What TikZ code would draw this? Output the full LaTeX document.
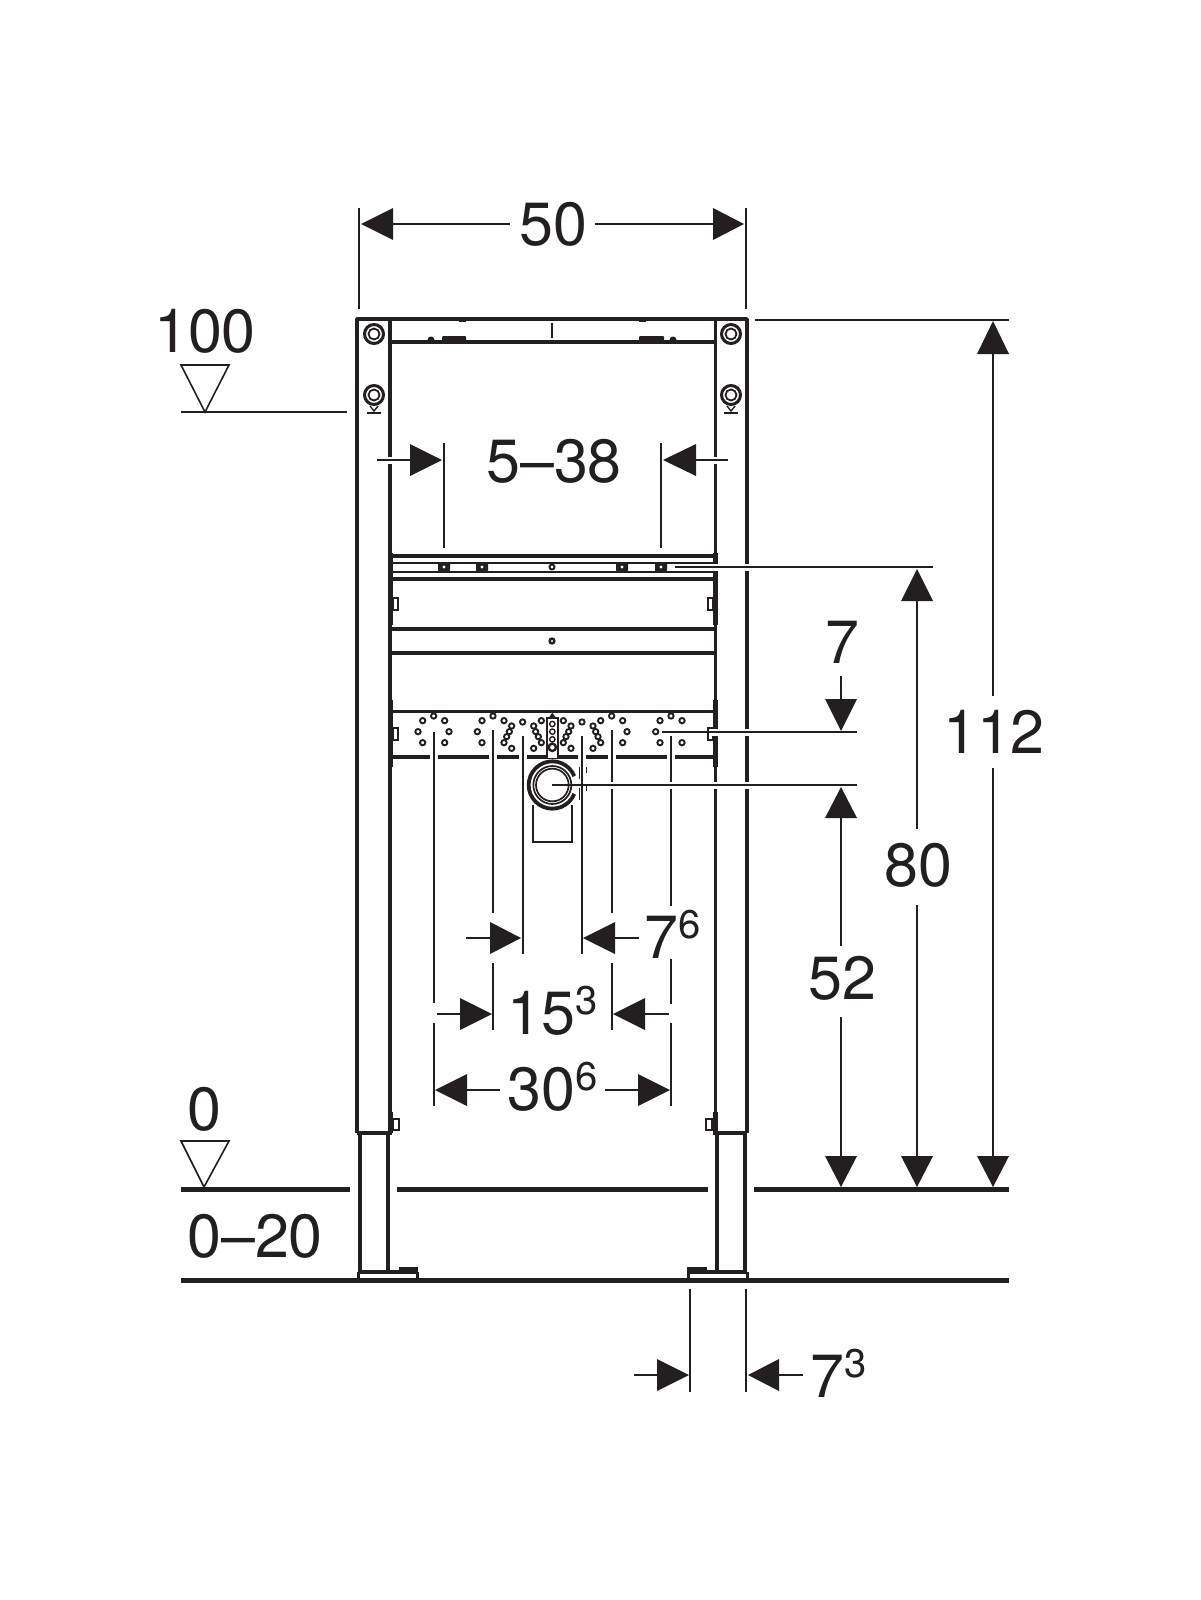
\documentclass[tikz,border=0pt]{standalone}
\usepackage{fontspec}
\setmainfont{TeX Gyre Heros}
\definecolor{ink}{HTML}{231F20}
\newcommand\numfont{\fontsize{61}{61}\selectfont}
\newcommand\supnum[1]{\raisebox{20pt}{\fontsize{40}{40}\selectfont #1}}
\newcommand\arrH[3]{\fill[ink] (#1,#3) -- (#2,#3-16) -- (#2,#3+16) -- cycle;}
\newcommand\arrV[3]{\fill[ink] (#1,#2) -- (#1-16,#3) -- (#1+16,#3) -- cycle;}
\newcommand\gapat[2]{\fill[white] (#1-4,#2-3.5) rectangle (#1+4,#2+3.5);}
\tikzset{
  thinline/.style={draw=ink,line width=1.6pt},
  wall/.style={draw=ink,line width=3.8pt},
  wallthick/.style={draw=ink,line width=5pt},
  ground/.style={draw=ink,line width=5pt},
  rail/.style={draw=ink,line width=3.5pt},
  railthin/.style={draw=ink,line width=2pt},
  hole/.style={draw=ink,fill=white,line width=1.9pt},
  dimtext/.style={text=ink,inner sep=0pt,font=\numfont,anchor=base},
  suptext/.style={text=ink,inner sep=0pt,font=\numfont,anchor=base west}
}
\begin{document}
\begin{tikzpicture}[x=1pt,y=-1pt]
\useasboundingbox (0,0) rectangle (1200,1600);
\fill[white] (0,0) rectangle (1200,1600);

% frame
\draw[wall,line join=round] (357,1133) -- (357,319) -- (747,319) -- (747,1133);
\draw[wall] (390,319) -- (390,1133);
\draw[wall] (715.5,319) -- (715.5,1133);
\draw[wall,line join=round] (357,1133) -- (392,1133);
\draw[wall,line join=round] (713,1133) -- (747,1133);
\foreach \ca/\cb in {553/582,582/625,700/767,1112/1133}{
  \draw[wallthick] (390,\ca) -- (390,\cb);
  \draw[wallthick] (715.5,\ca) -- (715.5,\cb);
}
\draw[rail] (390,342) -- (716,342);
\draw[line width=2.5pt,draw=ink] (552,323) -- (552,338);
\fill[ink,rounded corners=1pt] (442,336) rectangle (466,343);
\fill[ink,rounded corners=1pt] (639,336) rectangle (664,343);
\fill[ink] (431,340) circle (3.5);
\fill[ink] (673,340) circle (3.5);
\fill[ink] (459,320) rectangle (466,322);
\fill[ink] (639,320) rectangle (646,322);
% bolts
\foreach \bx in {374,731}{
  \foreach \by in {334,395}{
    \draw[ink,line width=3pt] (\bx,\by) circle (9.5);
    \draw[ink,line width=1.8pt] (\bx,\by) circle (5.5);
  }
  \draw[ink,line width=1.4pt] (\bx-4,406) -- (\bx,411) -- (\bx+4,406);
  \draw[ink,line width=2.5pt] (\bx-7,413) -- (\bx+7,413);
}
% rails
\draw[rail] (390,556) -- (716,556);
\draw[railthin] (390,562.5) -- (716,562.5);
\draw[railthin] (390,572) -- (716,572);
\draw[rail] (390,579) -- (716,579);
\draw[rail] (390,629) -- (716,629);
\draw[rail] (390,653) -- (716,653);
\draw[draw=ink,line width=3pt] (390,711) -- (716,711);
\draw[rail] (390,757) -- (716,757);
\foreach \rx in {444,482,622,661}{
  \fill[ink,rounded corners=2pt] (\rx-6,562) rectangle (\rx+6,572);
  \fill[white] (\rx,567) circle (1.6);
}
\draw[hole] (552,567) circle (2.5);
\draw[hole,line width=2.4pt] (552,641) circle (2.4);
% side lugs
\foreach \ly in {598,728}{
  \draw[ink,line width=1.6pt] (393,\ly) rectangle (398,\ly+12);
  \draw[ink,line width=1.6pt] (708,\ly) rectangle (713,\ly+12);
}
\draw[ink,line width=1.6pt] (393,1119) rectangle (399,1130);
\draw[ink,line width=1.6pt] (706,1119) rectangle (712,1130);
% legs
\draw[wall] (360,1133) -- (360,1272);
\draw[wall] (388,1133) -- (388,1272);
\draw[wall] (717,1133) -- (717,1272);
\draw[wall] (745,1133) -- (745,1272);
\draw[wall] (358,1272) -- (417,1272);
\draw[wall] (688,1272) -- (747,1272);
\fill[ink] (399,1267) rectangle (418,1274);
\fill[ink] (687,1267) rectangle (707,1274);
\draw[wall,line width=3pt] (358,1272) -- (358,1280);
\draw[wall,line width=3pt] (417,1272) -- (417,1280);
\draw[wall,line width=3pt] (688,1272) -- (688,1280);
\draw[wall,line width=3pt] (747,1272) -- (747,1280);

% hole pattern, bracket, waste pipe (coordinates of the detail view)
\begin{scope}[shift={(370,550)},x=0.33333pt,y=-0.33333pt]
  \foreach \hx/\hy in {158/512,191/498,224/512,144/545,237/545,158/578,224/578,
    336/512,369/498,402/512,322/545,336/578,402/578,425/528,418/545,410/560,425/595,
    458/516,491/528,497/545,505/560,514/578,491/595,514/512,
    580/512,603/528,596/545,588/560,580/578,603/595,
    636/516,669/528,677/545,684/560,692/578,669/595,692/512,725/498,758/512,771/545,758/578,
    870/512,903/498,936/512,857/545,870/578,936/578}
    {\draw[hole] (\hx,\hy) circle (8);}
  \draw[ink,line width=2pt,fill=white] (531,625) -- (531,505) -- (563,505) -- (563,625);
  \fill[ink] (547,488) -- (535,505) -- (559,505) -- cycle;
  \foreach \hy in {522,545,568}{\draw[ink,fill=white,line width=1.4pt] (547,\hy) circle (8);}
  \draw[ink,fill=white,line width=2.4pt] (547,592) circle (11);
  \draw[ink,line width=2pt] (490,765) -- (490,877) -- (606,877) -- (606,765);
  \fill[white] (547,705) circle (73);
  \draw[ink,line width=3.8pt] (547,705) ++(-22:71) arc[start angle=-22,end angle=-338,radius=71];
  \draw[ink,line width=1.7pt] (547,705) circle (57);
  \draw[ink,line width=1.7pt] (547,705) circle (49);
  \draw[ink,line width=1pt,dashed,dash pattern=on 12pt off 9pt] (628,650) -- (628,755);
  \draw[ink,line width=1pt,dashed,dash pattern=on 6pt off 12pt] (650,650) -- (650,755);
\end{scope}

% vertical extension lines
\foreach \vx in {434,493,523,582,612,671}{\gapat{\vx}{757}}
\draw[thinline] (434,732) -- (434,1003);
\draw[thinline] (434,1023) -- (434,1106);
\draw[thinline] (493,730) -- (493,913);
\draw[thinline] (493,963) -- (493,1030);
\draw[thinline] (523,736) -- (523,954);
\draw[thinline] (582,736) -- (582,954);
\draw[thinline] (612,730) -- (612,913);
\draw[thinline] (612,963) -- (612,1030);
\draw[thinline] (671,736) -- (671,906);
\draw[thinline] (671,959) -- (671,1004);
\draw[thinline] (671,1023) -- (671,1106);
\fill[white] (608,781.5) rectangle (616,788.5);
\fill[white] (667,781.5) rectangle (675,788.5);

% column gaps where leader lines cross
\foreach \gy in {567,732,785}{\fill[white] (711,\gy-3.5) rectangle (719,\gy+3.5);\gapat{747}{\gy}}
\gapat{390}{460}
\gapat{715.5}{460}

% ground lines
\draw[ground] (181,1189) -- (350,1189);
\draw[ground] (397,1189) -- (708,1189);
\draw[ground] (754,1189) -- (1009,1189);
\draw[ground] (181,1280) -- (1009,1280);
\draw[thinline] (181,412) -- (347,412);
\draw[thinline,line join=miter] (181,365) -- (229,365) -- (205,412) -- cycle;
\draw[thinline,line join=miter] (181,1141) -- (229,1141) -- (204,1187) -- cycle;

% 50
\draw[thinline] (359,208) -- (359,309);
\draw[thinline] (746,208) -- (746,309);
\draw[thinline] (392,224) -- (510,224);
\draw[thinline] (595,224) -- (713,224);
\arrH{361}{393}{224}
\arrH{744}{713}{224}
\node[dimtext] (d50) at (553,245) {50};

% 100 and 0 levels
\node[dimtext] (lv100) at (205,352) {100};
\node[dimtext] (lv0) at (204,1130) {0};
\node[dimtext] (lv020) at (255,1257) {0–20};

% 5-38
\draw[thinline] (444,443) -- (444,548);
\draw[thinline] (661,443) -- (661,548);
\draw[thinline] (377,460) -- (410,460);
\draw[thinline] (696,460) -- (728,460);
\arrH{442}{410}{460}
\arrH{663}{696}{460}
\node[dimtext] (d538) at (554,482) {5–38};

% 112
\draw[thinline] (755,320) -- (1009,320);
\draw[thinline] (993,354) -- (993,696);
\draw[thinline] (993,768) -- (993,1156);
\arrV{993}{321}{354}
\arrV{993}{1187}{1156}
\node[dimtext] (d112) at (994,753) {112};

% 80
\draw[thinline] (675,567) -- (933,567);
\draw[thinline] (917,601) -- (917,829);
\draw[thinline] (917,905) -- (917,1156);
\arrV{917}{569}{601}
\arrV{917}{1187}{1156}
\node[dimtext] (d80) at (918,886) {80};

% 7 and 52
\draw[thinline] (662,732) -- (857,732);
\draw[thinline] (552,785) -- (857,785);
\draw[thinline] (841,676) -- (841,699);
\arrV{841}{731}{699}
\node[dimtext] (d7) at (842,663) {7};
\draw[thinline] (841,818) -- (841,946);
\draw[thinline] (841,1017) -- (841,1156);
\arrV{841}{787}{818}
\arrV{841}{1187}{1156}
\node[dimtext] (d52) at (842,999) {52};

% 7.6
\draw[thinline] (466,938) -- (490,938);
\arrH{521}{490}{938}
\draw[thinline] (615,938) -- (639,938);
\arrH{583}{615}{938}
\node[suptext] (d76) at (644,958) {7\supnum{6}};

% 15.3
\draw[thinline] (437,1014) -- (460,1014);
\arrH{492}{460}{1014}
\draw[thinline] (645,1014) -- (669,1014);
\arrH{613}{645}{1014}
\node[suptext] (d153) at (507,1034) {15\supnum{3}};

% 30.6
\draw[thinline] (467,1090) -- (500,1090);
\arrH{435}{467}{1090}
\draw[thinline] (605,1090) -- (638,1090);
\arrH{670}{638}{1090}
\node[suptext] (d306) at (507,1110) {30\supnum{6}};

% 7.3
\draw[thinline] (690,1289) -- (690,1392);
\draw[thinline] (746,1289) -- (746,1392);
\draw[thinline] (634,1375) -- (657,1375);
\arrH{689}{657}{1375}
\draw[thinline] (779,1375) -- (803,1375);
\arrH{748}{779}{1375}
\node[suptext] (d73) at (810,1397) {7\supnum{3}};
\end{tikzpicture}
\end{document}
